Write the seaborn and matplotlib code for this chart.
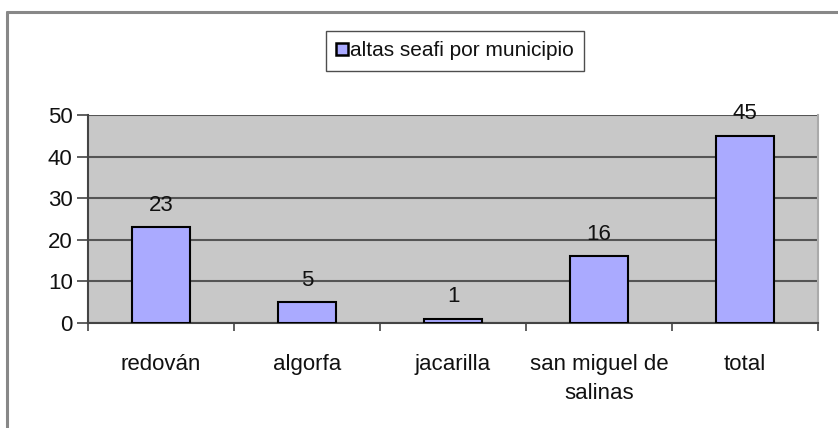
import matplotlib
matplotlib.use("Agg")
import matplotlib.pyplot as plt
import seaborn as sns
import pandas as pd
from matplotlib.patches import Patch
from matplotlib.lines import Line2D

categories = ["redován", "algorfa", "jacarilla", "san miguel de\nsalinas", "total"]
values = [23, 5, 1, 16, 45]
series_name = "altas seafi por municipio"
yticks = [0, 10, 20, 30, 40, 50]

sns.set_theme(style="white")
plt.rcParams['font.family'] = ['Liberation Sans', 'DejaVu Sans']

df = pd.DataFrame({"municipio": categories, "altas": values})

fig = plt.figure(figsize=(8.38, 4.28), dpi=100)
ax = fig.add_axes([88/838, 1-323/428, (818-88)/838, (323-115)/428])
ax.set_facecolor("#c8c8c8")

bar_color = "#aaaaff"
sns.barplot(data=df, x="municipio", y="altas", color=bar_color, width=0.4,
            edgecolor="black", linewidth=1.5, saturation=1, ax=ax, zorder=3)

ax.set_ylim(0, 50)
ax.set_xlim(-0.5, len(categories) - 0.5)
ax.set_yticks(yticks)
ax.yaxis.grid(True, color="#555555", linewidth=1.5, zorder=0)
ax.set_axisbelow(True)
ax.set_xlabel("")
ax.set_ylabel("")

for i, v in enumerate(values):
    ax.text(i, v + 2.8, str(v), ha="center", va="bottom", fontsize=16, color="#111111")

ax.set_xticks(range(len(categories)))
ax.set_xticklabels(categories, fontsize=16, color="#111111", linespacing=1.5)
ax.tick_params(axis="x", which="major", length=0, pad=22)
ax.set_xticks([i - 0.5 for i in range(len(categories) + 1)], minor=True)
ax.tick_params(axis="x", which="minor", length=6, width=1.2, color="#444444", direction="out", bottom=True)
ax.tick_params(axis="y", length=8, width=1.2, color="#444444", direction="out", left=True,
               labelsize=16, labelcolor="#111111", pad=3)

for s in ["left", "bottom"]:
    ax.spines[s].set_color("#444444")
    ax.spines[s].set_linewidth(1.5)
ax.spines["right"].set_color("#aaaaaa")
ax.spines["right"].set_linewidth(1.5)
ax.spines["top"].set_visible(False)

handle = Patch(facecolor=bar_color, edgecolor="black", linewidth=1.8)
leg = ax.legend([handle], [series_name], loc="center",
                bbox_to_anchor=(455/838, 1-51/428), bbox_transform=fig.transFigure,
                frameon=True, fancybox=False, fontsize=15, handlelength=0.55,
                handleheight=0.55, handletextpad=0.1, borderpad=0.5, borderaxespad=0)
leg.get_frame().set_edgecolor("#222222")
leg.get_frame().set_linewidth(1.0)
for t in leg.get_texts():
    t.set_color("#111111")

# outer frame
fx = 6.5/838
fy = 1 - 11.5/428
fig.add_artist(Line2D([fx, fx], [0, fy], color="#888888", linewidth=2.2, transform=fig.transFigure))
fig.add_artist(Line2D([fx, 1], [fy, fy], color="#888888", linewidth=2.2, transform=fig.transFigure))

fig.savefig("out.png", dpi=100)
